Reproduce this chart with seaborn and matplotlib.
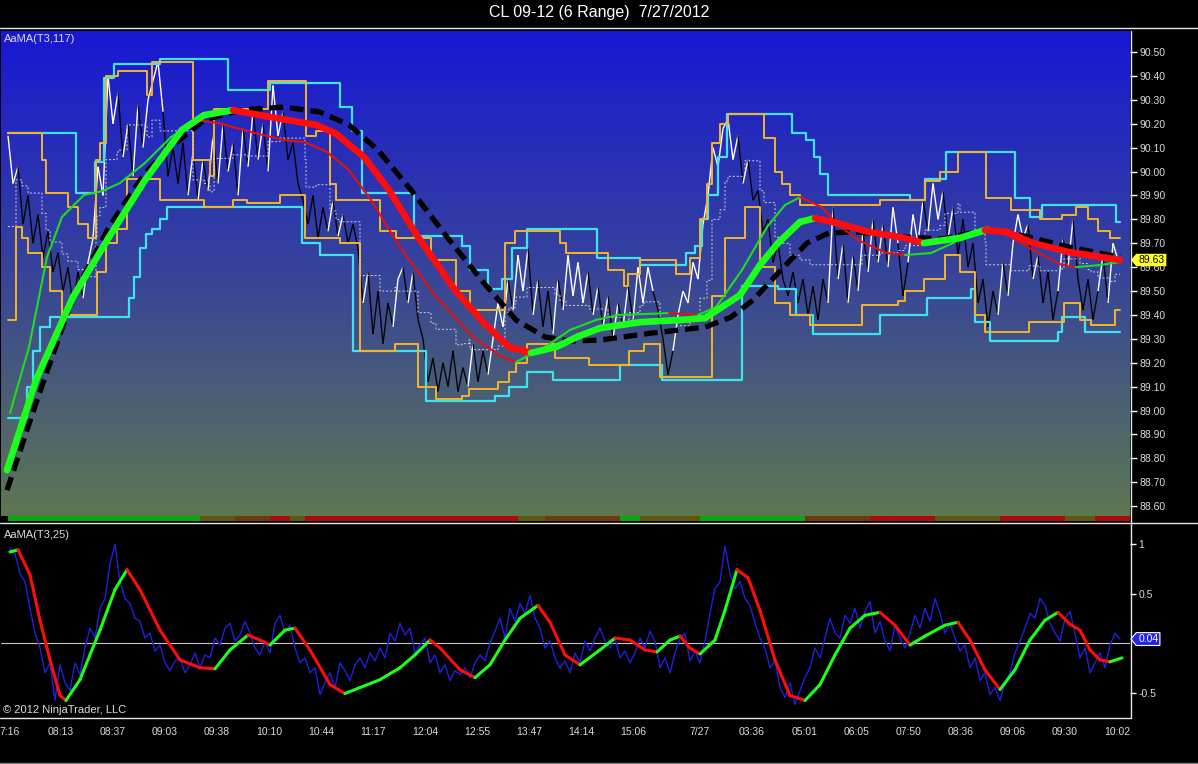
#!/usr/bin/env python3
# plot.py
# CL 09-12 range chart with AaMA(T3) overlays, NinjaTrader look

import numpy as np
import seaborn as sns
import matplotlib.pyplot as plt
from matplotlib.collections import LineCollection
from matplotlib.colors import LinearSegmentedColormap
from matplotlib.lines import Line2D
from matplotlib.patches import Polygon
from matplotlib.transforms import blended_transform_factory

# --- Data (x = bar number) ---
title = "CL 09-12 (6 Range)  7/27/2012"

time_bars = [10, 61, 113, 165, 217, 269, 321, 373, 425, 477, 529, 581, 633,
             700, 752, 805, 857, 909, 961, 1013, 1065, 1117]
time_labels = ["7:16", "08:13", "08:37", "09:03", "09:38", "10:10", "10:44",
               "11:17", "12:04", "12:55", "13:47", "14:14", "15:06", "7/27",
               "03:36", "05:01", "06:05", "07:50", "08:36", "09:06", "09:30",
               "10:02"]

price_ticks = [88.60, 88.70, 88.80, 88.90, 89.00, 89.10, 89.20, 89.30, 89.40,
               89.50, 89.60, 89.70, 89.80, 89.90, 90.00, 90.10, 90.20, 90.30,
               90.40, 90.50]
osc_ticks = [-0.5, 0.5, 1]
osc_tick_labels = ["-0.5", "0.5", "1"]

# close prices, one every 5 bars starting at bar 8
price_close = [
    90.15, 89.95, 90.02, 89.78, 89.90, 89.70, 89.82, 89.64, 89.75, 89.58,
    89.66, 89.50, 89.60, 89.44, 89.58, 89.47, 89.62, 89.72, 90.02, 89.90,
    90.40, 90.20, 90.33, 90.06, 90.20, 89.98, 90.28, 90.10, 90.30, 90.38,
    90.46, 90.25, 89.98, 90.10, 89.95, 90.12, 89.90, 90.08, 89.88, 90.05,
    89.92, 90.15, 89.95, 90.20, 90.00, 90.12, 89.90, 90.18, 90.02, 90.25,
    90.05, 90.20, 90.00, 90.36, 90.15, 90.25, 90.05, 90.12, 89.95, 89.88,
    89.78, 89.90, 89.72, 89.85, 89.75, 89.88, 89.73, 89.82, 89.70, 89.78,
    89.68, 89.45, 89.58, 89.32, 89.50, 89.28, 89.45, 89.35, 89.55, 89.60,
    89.45, 89.58, 89.38, 89.30, 89.12, 89.22, 89.08, 89.20, 89.10, 89.25,
    89.08, 89.18, 89.10, 89.28, 89.12, 89.25, 89.15, 89.30, 89.45, 89.35,
    89.55, 89.42, 89.65, 89.50, 89.68, 89.40, 89.55, 89.35, 89.50, 89.32,
    89.55, 89.42, 89.65, 89.48, 89.62, 89.45, 89.58, 89.40, 89.52, 89.35,
    89.48, 89.30, 89.45, 89.35, 89.52, 89.38, 89.60, 89.45, 89.60, 89.50,
    89.42, 89.30, 89.15, 89.25, 89.40, 89.50, 89.45, 89.62, 89.55, 89.78,
    89.90, 90.10, 90.02, 90.18, 90.22, 90.05, 90.15, 89.95, 90.05, 89.88,
    89.92, 89.75, 89.80, 89.62, 89.70, 89.55, 89.48, 89.58, 89.45, 89.55,
    89.40, 89.52, 89.38, 89.55, 89.45, 89.85, 89.55, 89.70, 89.45, 89.65,
    89.50, 89.75, 89.58, 89.80, 89.62, 89.78, 89.60, 89.85, 89.70, 89.48,
    89.62, 89.82, 89.70, 89.88, 89.75, 89.95, 89.80, 89.92, 89.72, 89.85,
    89.65, 89.80, 89.60, 89.70, 89.45, 89.55, 89.35, 89.50, 89.40, 89.62,
    89.48, 89.70, 89.82, 89.72, 89.78, 89.55, 89.65, 89.45, 89.58, 89.38,
    89.50, 89.72, 89.60, 89.80, 89.55, 89.42, 89.55, 89.38, 89.50, 89.65,
    89.45, 89.70, 89.63,
]
price_start, price_every = 8, 5
last_bar = 1120

# outer channel (cyan), step values: bar where the level starts
cyan_hi_x = [8, 76, 95, 104, 114, 160, 228, 270, 340, 352, 362, 414, 462, 470,
             488, 502, 512, 527, 597, 640, 686, 695, 702, 708, 718, 727, 792,
             806, 814, 820, 828, 910, 925, 946, 1015, 1030, 1042, 1116]
cyan_hi = [90.16, 89.91, 90.04, 90.39, 90.45, 90.47, 90.34, 90.37, 90.27, 90.17,
           89.91, 89.73, 89.69, 89.59, 89.51, 89.55, 89.68, 89.76, 89.64, 89.61,
           89.66, 89.69, 89.80, 89.90, 90.06, 90.24, 90.16, 90.13, 90.06, 89.99,
           89.90, 89.88, 89.97, 90.08, 89.89, 89.81, 89.86, 89.79]
cyan_lo_x = [8, 27, 33, 40, 50, 129, 134, 140, 146, 152, 160, 167, 302, 320,
             353, 426, 495, 509, 527, 553, 620, 662, 742, 778, 796, 813, 880,
             927, 971, 975, 990, 1058, 1062, 1085]
cyan_lo = [88.97, 89.10, 89.25, 89.35, 89.39, 89.47, 89.56, 89.68, 89.74, 89.76,
           89.80, 89.85, 89.70, 89.65, 89.25, 89.04, 89.06, 89.10, 89.16, 89.13,
           89.19, 89.13, 89.52, 89.51, 89.40, 89.32, 89.40, 89.47, 89.51, 89.37,
           89.29, 89.33, 89.39, 89.33]

# inner channel (orange)
orange_hi_x = [8, 42, 46, 68, 78, 88, 96, 100, 106, 118, 147, 152, 193, 210,
               214, 268, 306, 316, 330, 336, 380, 396, 431, 456, 470, 505, 515,
               560, 566, 573, 608, 624, 628, 640, 676, 690, 700, 707, 712, 720,
               728, 764, 775, 782, 790, 800, 868, 880, 925, 940, 958, 986, 1011,
               1040, 1062, 1076, 1088, 1098, 1110]
orange_hi = [90.16, 90.05, 89.91, 89.85, 89.78, 89.72, 90.05, 90.12, 90.40,
             90.42, 90.32, 90.46, 90.05, 89.98, 90.26, 90.38, 90.15, 90.17,
             89.95, 89.88, 89.75, 89.72, 89.63, 89.50, 89.42, 89.70, 89.75,
             89.70, 89.66, 89.66, 89.59, 89.52, 89.57, 89.63, 89.57, 89.64,
             89.80, 89.95, 90.12, 90.20, 90.24, 90.14, 90.00, 89.95, 89.90,
             89.86, 89.86, 89.88, 89.96, 90.00, 90.08, 89.89, 89.84, 89.80,
             89.82, 89.85, 89.80, 89.75, 89.72]
orange_lo_x = [8, 16, 22, 28, 42, 50, 62, 97, 106, 117, 127, 160, 204, 233, 247,
               280, 305, 340, 360, 395, 418, 436, 462, 469, 498, 509, 516, 527,
               555, 589, 629, 644, 660, 712, 725, 745, 760, 775, 790, 810, 862,
               898, 905, 924, 945, 960, 975, 985, 1029, 1064, 1080, 1091, 1115]
orange_lo = [89.38, 89.77, 89.72, 89.66, 89.60, 89.50, 89.40, 89.58, 89.70,
             89.76, 89.97, 89.88, 89.85, 89.88, 89.87, 89.90, 89.72, 89.70,
             89.25, 89.28, 89.10, 89.05, 89.06, 89.09, 89.12, 89.16, 89.20,
             89.28, 89.22, 89.19, 89.25, 89.28, 89.14, 89.48, 89.72, 89.85,
             89.60, 89.45, 89.40, 89.36, 89.44, 89.46, 89.50, 89.55, 89.65,
             89.58, 89.40, 89.33, 89.37, 89.45, 89.38, 89.36, 89.42]

# AaMA(T3,117) thick, its faster thin twin, and the slow dashed one
ma_thick_x = [7, 36, 73, 109, 145, 182, 204, 233, 265, 316, 335, 364, 389, 418,
              455, 484, 509, 531, 556, 578, 600, 640, 680, 705, 740, 760, 778,
              800, 815, 833, 869, 900, 924, 960, 985, 1007, 1033, 1069, 1120]
ma_thick = [88.751, 89.128, 89.475, 89.726, 89.964, 90.174, 90.236, 90.257,
            90.232, 90.195, 90.161, 90.061, 89.923, 89.726, 89.504, 89.366,
            89.266, 89.241, 89.266, 89.310, 89.345, 89.370, 89.379, 89.387,
            89.483, 89.609, 89.701, 89.789, 89.805, 89.789, 89.747, 89.726,
            89.701, 89.722, 89.755, 89.747, 89.701, 89.663, 89.630]
ma_thin_x = [10, 29, 47, 62, 84, 102, 120, 145, 171, 198, 218, 255, 284, 305,
             327, 349, 371, 400, 436, 473, 502, 516, 545, 570, 596, 618, 645,
             669, 698, 716, 742, 767, 785, 800, 822, 836, 858, 887, 905, 931,
             953, 971, 989, 1011, 1033, 1062, 1076, 1100, 1120]
ma_thin = [88.990, 89.266, 89.642, 89.810, 89.902, 89.918, 89.952, 90.036,
           90.144, 90.215, 90.203, 90.161, 90.132, 90.123, 90.082, 90.006,
           89.881, 89.684, 89.475, 89.308, 89.224, 89.203, 89.266, 89.337,
           89.379, 89.400, 89.404, 89.408, 89.400, 89.433, 89.588, 89.768,
           89.860, 89.893, 89.851, 89.785, 89.713, 89.659, 89.651, 89.659,
           89.701, 89.747, 89.768, 89.726, 89.672, 89.609, 89.600, 89.609,
           89.621]
ma_slow_x = [7, 36, 73, 109, 145, 171, 204, 240, 284, 320, 349, 378, 411, 447,
             484, 516, 545, 570, 600, 651, 705, 731, 753, 778, 807, 829, 858,
             905, 942, 985, 1007, 1033, 1069, 1120]
ma_slow = [88.667, 89.031, 89.475, 89.768, 89.994, 90.103, 90.215, 90.257,
           90.270, 90.249, 90.195, 90.090, 89.923, 89.726, 89.533, 89.379,
           89.308, 89.291, 89.295, 89.324, 89.349, 89.391, 89.462, 89.575,
           89.701, 89.743, 89.747, 89.726, 89.718, 89.755, 89.747, 89.722,
           89.684, 89.642]

# trend strip under the price panel: segment start bars and state
strip_x = [0, 8, 200, 235, 270, 290, 305, 518, 545, 620, 640, 700, 805, 870,
           935, 1000, 1065, 1095]
strip_state = ["none", "up", "flat", "weak", "down", "flat", "down", "flat",
               "weak", "up", "flat", "up", "weak", "down", "flat", "down",
               "flat", "down"]

# AaMA(T3,25) oscillator: raw (blue, every 5 bars from bar 10) and smoothed
osc_raw = [
    0.96, 0.90, 0.70, 0.62, 0.35, 0.10, -0.05, -0.30, -0.20, -0.58,
    -0.22, -0.40, -0.48, -0.20, -0.32, -0.05, 0.15, 0.05, 0.35, 0.45,
    0.80, 1.00, 0.62, 0.45, 0.40, 0.25, 0.22, 0.05, 0.10, -0.08,
    -0.02, -0.20, -0.28, -0.18, -0.15, -0.30, -0.22, -0.10, -0.25, -0.12,
    -0.15, 0.05, -0.02, 0.15, 0.20, 0.02, 0.08, 0.22, 0.10, -0.05,
    -0.12, 0.02, -0.10, 0.20, 0.28, 0.10, 0.18, -0.05, -0.20, -0.15,
    -0.30, -0.25, -0.52, -0.40, -0.30, -0.45, -0.20, -0.28, -0.38, -0.22,
    -0.15, -0.25, -0.10, -0.18, -0.05, -0.15, 0.10, 0.02, 0.20, 0.08,
    0.15, -0.10, -0.02, 0.05, -0.20, -0.12, -0.30, -0.22, -0.38, -0.28,
    -0.32, -0.25, -0.35, -0.20, -0.12, -0.18, 0.00, 0.12, 0.25, 0.05,
    0.35, 0.22, 0.40, 0.30, 0.48, 0.25, 0.15, -0.05, 0.02, -0.15,
    -0.25, -0.18, -0.30, -0.10, -0.20, 0.02, -0.08, 0.05, 0.15, 0.02,
    -0.05, 0.05, -0.15, -0.08, -0.20, -0.10, 0.05, -0.05, 0.12, 0.02,
    -0.25, -0.15, -0.30, -0.10, 0.05, 0.10, -0.18, -0.08, -0.20, 0.02,
    0.30, 0.55, 0.62, 0.98, 0.70, 0.55, 0.62, 0.45, 0.38, 0.20,
    0.05, -0.05, -0.25, -0.18, -0.45, -0.55, -0.40, -0.62, -0.48, -0.35,
    -0.25, -0.05, -0.15, 0.05, 0.25, 0.10, 0.05, 0.28, 0.20, 0.35,
    0.15, 0.32, 0.42, 0.10, 0.22, 0.02, -0.08, 0.18, 0.05, -0.05,
    0.10, 0.28, 0.15, 0.35, 0.22, 0.45, 0.30, 0.10, 0.20, 0.05,
    -0.08, -0.02, -0.25, -0.15, -0.38, -0.30, -0.52, -0.45, -0.58, -0.40,
    -0.30, -0.10, 0.02, 0.15, 0.30, 0.25, 0.45, 0.38, 0.20, 0.10,
    0.02, 0.25, 0.32, 0.10, -0.15, -0.05, -0.30, -0.20, -0.10, -0.25,
    -0.02, 0.10, 0.04,
]
osc_start, osc_every = 10, 5
osc_smooth_x = [10, 18, 30, 40, 50, 60, 66, 80, 100, 115, 127, 140, 160, 180,
                200, 215, 230, 248, 260, 270, 285, 295, 310, 330, 345, 360, 380,
                400, 415, 430, 440, 460, 475, 490, 505, 520, 538, 550, 565, 580,
                600, 615, 630, 645, 657, 670, 680, 690, 700, 715, 725, 737, 748,
                760, 775, 790, 805, 820, 835, 850, 865, 880, 895, 910, 925, 945,
                958, 970, 985, 1000, 1015, 1030, 1045, 1058, 1070, 1080, 1090,
                1100, 1110, 1122]
osc_smooth = [0.92, 0.94, 0.69, 0.23, -0.17, -0.53, -0.58, -0.37, 0.13, 0.54,
              0.74, 0.54, 0.13, -0.17, -0.25, -0.26, -0.07, 0.08, 0.03, -0.02,
              0.13, 0.15, -0.07, -0.42, -0.51, -0.45, -0.37, -0.25, -0.12, 0.03,
              -0.05, -0.27, -0.35, -0.22, 0.03, 0.25, 0.38, 0.21, -0.12, -0.22,
              -0.07, 0.05, 0.03, -0.07, -0.09, 0.03, 0.07, -0.05, -0.11, 0.03,
              0.33, 0.74, 0.66, 0.33, -0.17, -0.53, -0.58, -0.42, -0.12, 0.15,
              0.28, 0.31, 0.18, -0.02, 0.07, 0.18, 0.21, 0.03, -0.27, -0.47,
              -0.27, 0.03, 0.23, 0.31, 0.19, 0.13, -0.07, -0.17, -0.19, -0.15]

# --- Styling ---
W, H = 1198, 764
GREEN_BIG, RED_BIG = "#1cff1c", "#ff0d0d"
GREEN_THIN, RED_THIN = "#20dc20", "#e41010"
STRIP_COLORS = {"none": "black", "up": "#0ca60c", "flat": "#5d5a0e",
                "weak": "#6e3c0c", "down": "#a80c0c"}
TXT = "#dcdcdc"

sns.set_theme(style="dark", rc={"axes.facecolor": "black",
                                "figure.facecolor": "black",
                                "axes.grid": False})
plt.rcParams["font.family"] = ["Liberation Sans", "DejaVu Sans"]


def rect(x0, y0, x1, y1):
    """Axes box from pixel edges (top-left origin)."""
    return [x0 / W, 1 - y1 / H, (x1 - x0) / W, (y1 - y0) / H]


def step_at(xs, vals, bars):
    """Value of a step series at the given bars."""
    idx = np.searchsorted(xs, bars, side="right") - 1
    return np.asarray(vals)[np.clip(idx, 0, None)]


def with_end(xs, vals):
    return list(xs) + [last_bar], list(vals) + [vals[-1]]


def slope_lines(x, y, up, down, lw, z):
    pts = np.column_stack([x, y])
    segs = np.stack([pts[:-1], pts[1:]], axis=1)
    cols = [up if b >= a else down for a, b in zip(y[:-1], y[1:])]
    return LineCollection(segs, colors=cols, linewidths=lw, capstyle="round",
                          joinstyle="round", zorder=z)


fig = plt.figure(figsize=(W / 100, H / 100), dpi=100)
ax1 = fig.add_axes(rect(1, 31, 1130, 516))
ax_s = fig.add_axes(rect(1, 516, 1130, 521))
ax2 = fig.add_axes(rect(1, 523, 1130, 717))

X_LIM = (1, 1130)
P_LIM = (88.559, 90.588)
O_LIM = (-0.747, 1.212)

# --- 1. Price panel ---
grad = LinearSegmentedColormap.from_list("bg", ["#1818d4", "#37449a", "#5d7752"])
ax1.imshow(np.linspace(0, 1, 256)[:, None], extent=(*X_LIM, *P_LIM),
           aspect="auto", cmap=grad, origin="upper", zorder=0)

for xs, vals, col, lw in [(cyan_hi_x, cyan_hi, "#3fe3ef", 1.6),
                          (cyan_lo_x, cyan_lo, "#3fe3ef", 1.6),
                          (orange_hi_x, orange_hi, "#f2b52a", 1.4),
                          (orange_lo_x, orange_lo, "#f2b52a", 1.4)]:
    sx, sv = with_end(xs, vals)
    sns.lineplot(x=sx, y=sv, ax=ax1, color=col, lw=lw, drawstyle="steps-post",
                 estimator=None, sort=False, zorder=3)

bars = np.arange(8, last_bar + 1)
mid = (step_at(orange_hi_x, orange_hi, bars) + step_at(orange_lo_x, orange_lo, bars)) / 2
ax1.plot(bars, mid, color="#d4d4d4", lw=0.7, ls=(0, (2, 2)),
         drawstyle="steps-post", zorder=3)

px = price_start + price_every * np.arange(len(price_close))
py = np.asarray(price_close)
pmid = step_at(orange_hi_x, orange_hi, px) / 2 + step_at(orange_lo_x, orange_lo, px) / 2
pts = np.column_stack([px, py])
segs = np.stack([pts[:-1], pts[1:]], axis=1)
pcols = ["white" if v >= m else "#050505" for v, m in zip(py[1:], pmid[1:])]
ax1.add_collection(LineCollection(segs, colors=pcols, linewidths=1.0, zorder=2))

ax1.plot(ma_slow_x, ma_slow, color="black", lw=3.8, ls=(0, (2.6, 1.3)), zorder=5)
ax1.add_collection(slope_lines(np.array(ma_thin_x), np.array(ma_thin),
                               GREEN_THIN, RED_THIN, 1.5, 6))
ax1.add_collection(slope_lines(np.array(ma_thick_x), np.array(ma_thick),
                               GREEN_BIG, RED_BIG, 4.8, 6))

ax1.set_xlim(*X_LIM)
ax1.set_ylim(*P_LIM)
ax1.set_xticks([])
ax1.yaxis.tick_right()
ax1.set_yticks(price_ticks)
ax1.set_yticklabels([f"{v:.2f}" for v in price_ticks])
ax1.tick_params(axis="y", direction="out", length=5, width=1, colors="white",
                labelcolor=TXT, labelsize=7.5, pad=2)
ax1.text(0.003, 0.994, "AaMA(T3,117)", transform=ax1.transAxes, va="top",
         ha="left", color=TXT, fontsize=8)

# last price marker
last = price_close[-1]
bt = blended_transform_factory(ax1.transAxes, ax1.transData)
hh = 0.026
ax1.add_patch(Polygon([(1.0008, last), (1.0055, last + hh), (1.0322, last + hh),
                       (1.0322, last - hh), (1.0055, last - hh)], closed=True,
                      transform=bt, fc="#ffff26", ec="none", clip_on=False,
                      zorder=10))
ax1.text(1.019, last, f"{last:.2f}", transform=bt, ha="center", va="center",
         fontsize=7.5, color="black", clip_on=False, zorder=11)

# --- 2. Trend strip ---
ends = strip_x[1:] + [X_LIM[1]]
ax_s.broken_barh([(s, e - s) for s, e in zip(strip_x, ends)], (0, 1),
                 facecolors=[STRIP_COLORS[k] for k in strip_state],
                 edgecolors="none", linewidth=0)
ax_s.set_xlim(*X_LIM)
ax_s.set_ylim(0, 1)
ax_s.axis("off")

# --- 3. Oscillator panel ---
ox = osc_start + osc_every * np.arange(len(osc_raw))
ax2.axhline(0, color="#c8c8c8", lw=0.8, zorder=1)
sns.lineplot(x=ox, y=osc_raw, ax=ax2, color="#2020e0", lw=1.0,
             estimator=None, sort=False, zorder=2)
ax2.add_collection(slope_lines(np.array(osc_smooth_x), np.array(osc_smooth),
                               GREEN_BIG, RED_BIG, 2.2, 4))
ax2.set_xlim(*X_LIM)
ax2.set_ylim(*O_LIM)
ax2.yaxis.tick_right()
ax2.set_yticks(osc_ticks)
ax2.set_yticklabels(osc_tick_labels)
ax2.set_xticks(time_bars)
ax2.set_xticklabels(time_labels)
ax2.tick_params(axis="both", direction="out", length=4, width=1, colors="white",
                labelcolor=TXT, labelsize=7.5, pad=2)
ax2.tick_params(axis="x", pad=3)
ax2.text(0.003, 0.965, "AaMA(T3,25)", transform=ax2.transAxes, va="top",
         ha="left", color=TXT, fontsize=8)
ax2.text(0.002, 0.008, "\u00a9 2012 NinjaTrader, LLC", transform=ax2.transAxes,
         va="bottom", ha="left", color=TXT, fontsize=8)

last_osc = osc_raw[-1]
bt2 = blended_transform_factory(ax2.transAxes, ax2.transData)
oh = 0.065
ax2.add_patch(Polygon([(1.0008, last_osc), (1.0055, last_osc + oh),
                       (1.0265, last_osc + oh), (1.0265, last_osc - oh),
                       (1.0055, last_osc - oh)], closed=True, transform=bt2,
                      fc="#2424e6", ec="white", lw=0.8, clip_on=False, zorder=10))
ax2.text(1.0165, last_osc, f"{last_osc:.2f}", transform=bt2, ha="center",
         va="center", fontsize=7.5, color="white", clip_on=False, zorder=11)

for ax in (ax1, ax_s, ax2):
    for sp in ax.spines.values():
        sp.set_visible(False)
    ax.grid(False)

# --- Frame lines and title ---
def hline(y, x0=0, x1=W, color="#e6e6e6"):
    fig.add_artist(Line2D([x0 / W, x1 / W], [1 - y / H] * 2, color=color,
                          lw=1, transform=fig.transFigure))

hline(27.5)
hline(522.5)
hline(717.5, 0, 1130.5)
hline(762.5, color="#7a7a7a")
fig.add_artist(Line2D([1130.5 / W] * 2, [1 - 31 / H, 1 - 717.5 / H],
                      color="#e6e6e6", lw=1, transform=fig.transFigure))

fig.text(0.5, 1 - 13 / H, title, ha="center", va="center", color="white",
         fontsize=11.5)

fig.savefig("out.png", dpi=100, facecolor="black")
